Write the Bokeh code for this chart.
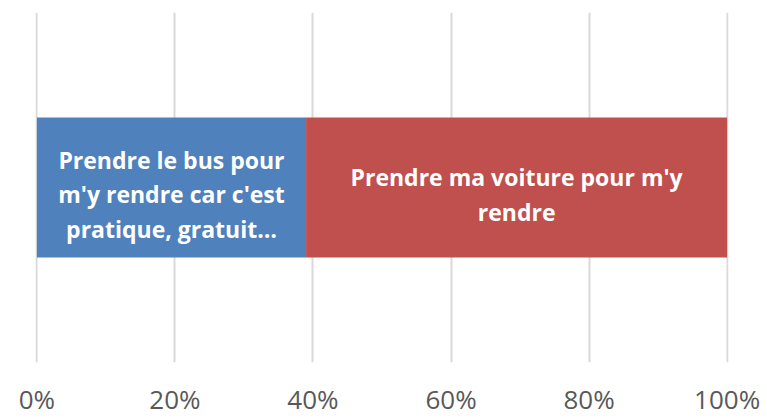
from bokeh.plotting import figure
from bokeh.models import ColumnDataSource, FixedTicker, PrintfTickFormatter, Range1d
from bokeh.core.properties import value
from bokeh.embed import file_html
from bokeh.resources import INLINE

# Data
categories = ["Prendre le bus pour\nm'y rendre car c'est\npratique, gratuit\u2026",
              "Prendre ma voiture pour m'y\nrendre"]
shares = [39, 61]
colors = ["#4F81BD", "#C0504D"]
ticks = [0, 20, 40, 60, 80, 100]

lefts, rights, mids = [], [], []
acc = 0
for s in shares:
    lefts.append(acc)
    rights.append(acc + s)
    mids.append(acc + s / 2)
    acc += s

src = ColumnDataSource(dict(left=lefts, right=rights, mid=mids, label=categories,
                            color=colors, y=[0.5] * len(shares)))

p = figure(width=767, height=419, output_backend="svg", toolbar_location=None,
           x_range=Range1d(-0.2, 100.2), y_range=Range1d(0, 1),
           min_border_left=35, min_border_right=39, min_border_top=12, min_border_bottom=57)
p.outline_line_color = None
p.background_fill_color = "white"
p.border_fill_color = "white"

p.hbar(y="y", left="left", right="right", height=0.4, color="color", line_color=None, source=src)
p.text(x="mid", y="y", text="label", source=src, text_color="white",
       text_font=value("Open Sans"), text_font_style="bold", text_font_size="23px",
       text_align="center", text_baseline="middle", text_line_height=1.07, y_offset=7)

p.yaxis.visible = False
p.ygrid.visible = False
p.xaxis.ticker = FixedTicker(ticks=ticks)
p.xaxis.formatter = PrintfTickFormatter(format="%d%%")
p.xaxis.axis_line_color = None
p.xaxis.major_tick_line_color = None
p.xaxis.minor_tick_line_color = None
p.xaxis.major_label_text_font = "Open Sans"
p.xaxis.major_label_text_font_size = "26px"
p.xaxis.major_label_text_line_height = 1.0
p.xaxis.major_label_text_color = "#595959"
p.xaxis.major_label_standoff = 12
p.xgrid.grid_line_color = "#d9d9d9"
p.xgrid.grid_line_width = 2

open("out.html", "w").write(file_html(p, INLINE))
